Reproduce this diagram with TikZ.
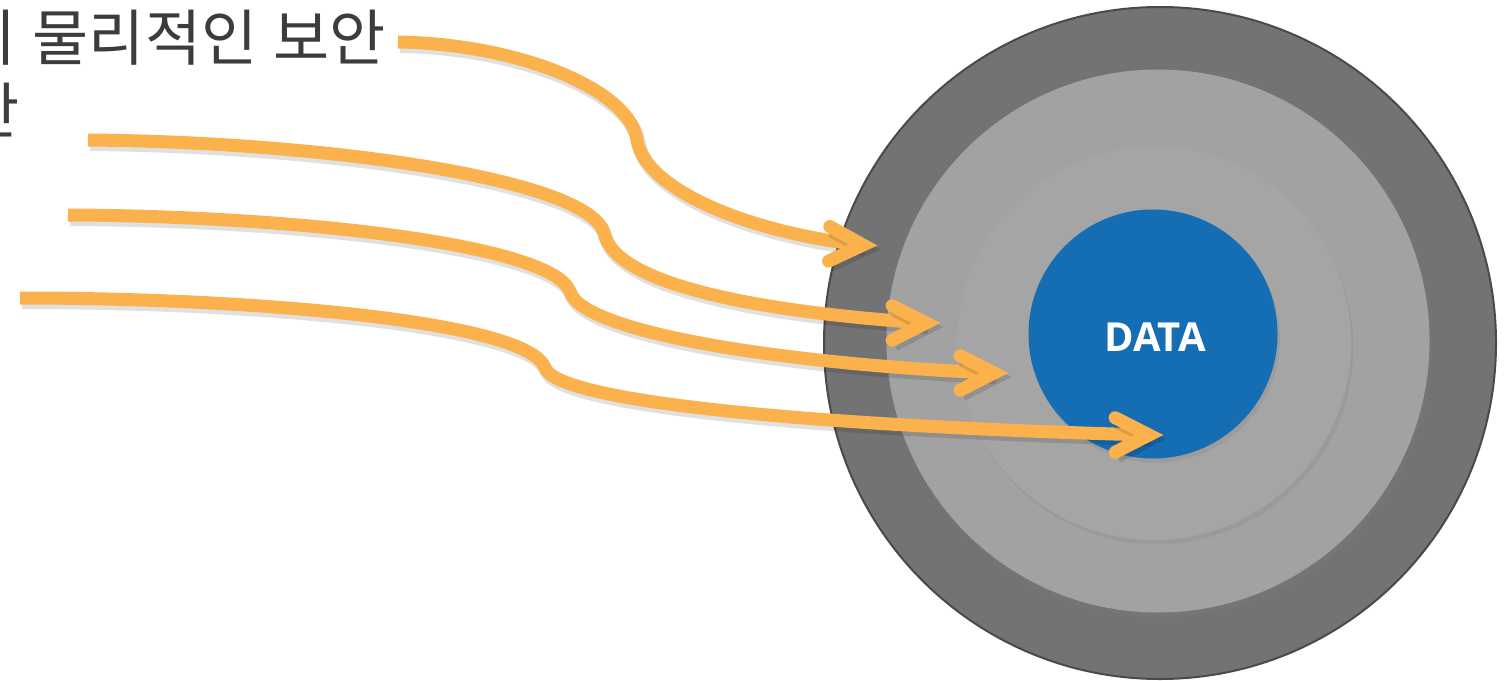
\documentclass[tikz,border=0pt]{standalone}
\usepackage{fontspec}
\newfontfamily\kofont{Noto Sans CJK KR}
\newfontfamily\datafont{Open Sans}
\usetikzlibrary{calc,shadows}
\definecolor{ringdark}{HTML}{737373}
\definecolor{ringedge}{HTML}{4A4A4A}
\definecolor{ringmid}{HTML}{A2A2A2}
\definecolor{ringin}{HTML}{A5A5A5}
\definecolor{datablue}{HTML}{156DB3}
\definecolor{orng}{HTML}{FBB24C}
\definecolor{txtgray}{HTML}{3C3C3C}
\tikzset{
  ring/.style={circle,inner sep=0pt,outer sep=0pt},
  ringshadow/.style={drop shadow={opacity=0.22,shadow xshift=1.2pt,shadow yshift=-2.2pt}},
  stem/.style={draw=orng,line width=6.5pt,line cap=butt,
    preaction={draw=black,opacity=0.12,line width=7pt,transform canvas={shift={(1pt,-2pt)}}}},
  head/.style={draw=orng,line width=6.5pt,line cap=round,line join=miter,
    preaction={draw=black,opacity=0.12,line width=7pt,transform canvas={shift={(1pt,-2pt)}}}},
  lbl/.style={inner sep=0pt,text=txtgray,font=\kofont\fontsize{30.5pt}{36pt}\selectfont}
}
\begin{document}
\begin{tikzpicture}[x=0.5pt,y=0.5pt]
\useasboundingbox (0,0) rectangle (1509,-680);
\fill[white] (0,0) rectangle (1509,-680);
\clip (0,0) rectangle (1509,-680);

% rings
\node[ring,fill=ringdark,draw=ringedge,line width=1pt,minimum size=336pt] (outer) at (1160,-343) {};
\node[ring,fill=ringmid,ringshadow,minimum size=271.5pt] (mid) at (1158,-341) {};
\node[ring,fill=ringin,ringshadow,minimum size=197pt] (inner) at (1154,-343) {};
\node[ring,fill=datablue,ringshadow,minimum size=124.5pt] (data) at (1153,-334) {};
\node[text=white,font=\datafont\bfseries\fontsize{20pt}{24pt}\selectfont] (datalbl) at (1155,-337) {DATA};

% labels
\node[lbl,anchor=base east] (l1) at (386,-61) {의\hspace{8pt}물리적인\hspace{8pt}보안};
\node[lbl,anchor=base east] (l2) at (20,-133) {안};

% arrow coordinates
\coordinate (a1s) at (398,-42);  \coordinate (a1b) at (637,-140); \coordinate (a1v) at (863,-245);
\coordinate (a2s) at (88,-140);  \coordinate (a2b) at (604,-233); \coordinate (a2v) at (926,-323);
\coordinate (a3s) at (68,-215);  \coordinate (a3b) at (570,-292); \coordinate (a3v) at (994,-373);
\coordinate (a4s) at (20,-298);  \coordinate (a4b) at (545,-368); \coordinate (a4v) at (1149,-435);

% stems
\draw[stem] (a1s) .. controls (520,-44) and (630,-90) .. (a1b) .. controls (645,-190) and (750,-233) .. (a1v);
\draw[stem] (a2s) .. controls (330,-142) and (590,-180) .. (a2b) .. controls (615,-285) and (760,-312) .. (a2v);
\draw[stem] (a3s) .. controls (300,-216) and (555,-245) .. (a3b) .. controls (585,-335) and (800,-365) .. (a3v);
\draw[stem] (a4s) .. controls (260,-298) and (530,-322) .. (a4b) .. controls (560,-405) and (850,-427) .. (a4v);

% heads
\draw[head] ($(a1v)+(151:38)$) -- (a1v) -- ($(a1v)+(205:38)$);
\draw[head] ($(a2v)+(153:38)$) -- (a2v) -- ($(a2v)+(207:38)$);
\draw[head] ($(a3v)+(153:38)$) -- (a3v) -- ($(a3v)+(207:38)$);
\draw[head] ($(a4v)+(153:38)$) -- (a4v) -- ($(a4v)+(207:38)$);
\end{tikzpicture}
\end{document}
